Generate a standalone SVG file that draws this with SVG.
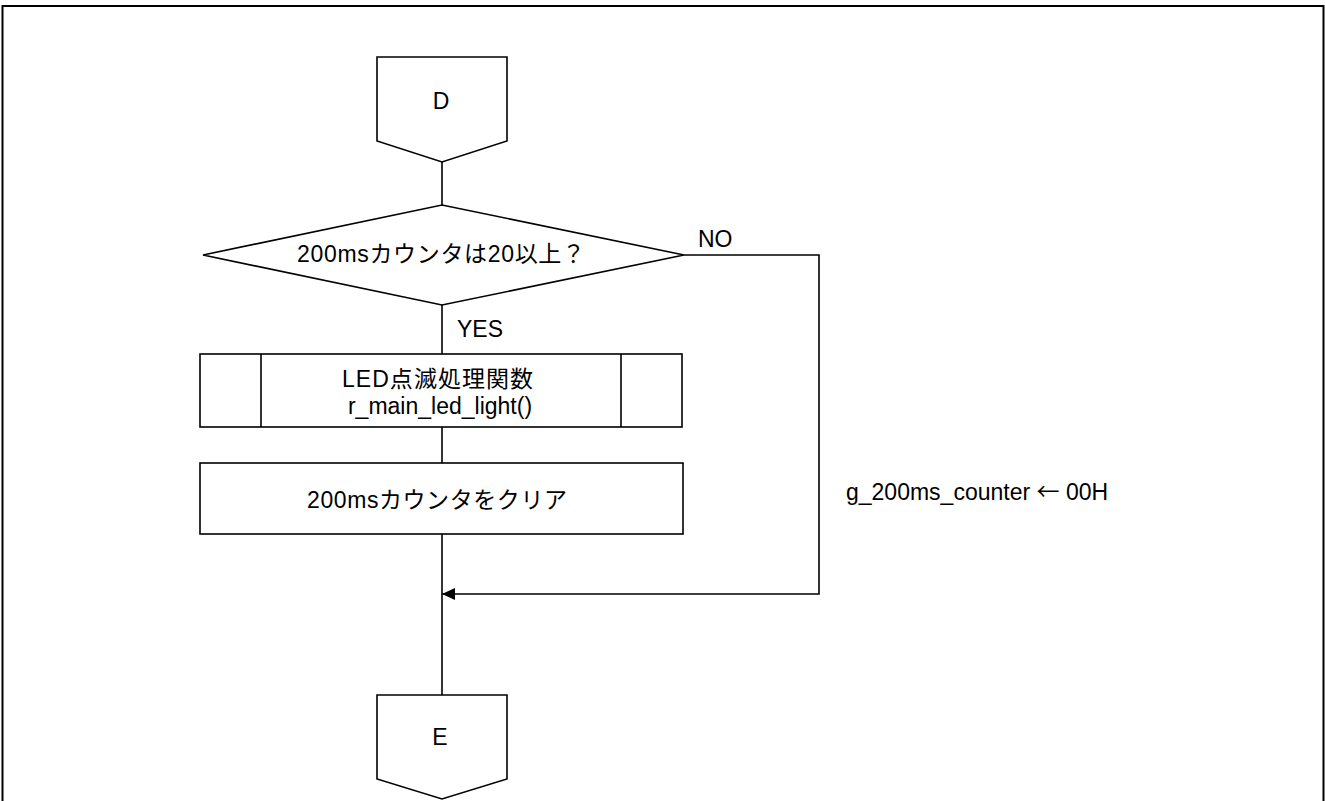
<svg xmlns="http://www.w3.org/2000/svg" width="1325" height="801" viewBox="0 0 1325 801">
<style>
.s{fill:#fff;stroke:#000;stroke-width:1.6}
.c{fill:none;stroke:#000;stroke-width:1.6}
text{font-family:"Liberation Sans","Noto Sans CJK JP",sans-serif;font-size:23px;fill:#000}
.m{text-anchor:middle}
.j{font-family:"Noto Sans CJK JP",sans-serif}
</style>
<defs>
<marker id="ah" viewBox="0 0 13 12" refX="13" refY="6" markerWidth="13" markerHeight="12" markerUnits="userSpaceOnUse" orient="auto">
<path d="M0,0 L13,6 L0,12 z" fill="#000"/>
</marker>
</defs>
<rect width="1325" height="801" fill="#fff"/>
<path d="M2.5,801 V6 H1323.5 V801" fill="none" stroke="#000" stroke-width="2"/>
<g id="connectors">
<path class="c" d="M442,162 V205"/>
<path class="c" d="M442,305 V354"/>
<path class="c" d="M442,427 V463"/>
<path class="c" d="M442,534 V695"/>
<path class="c" d="M684,255 H819 V594 H442" marker-end="url(#ah)"/>
<text x="698" y="246.5">NO</text>
<text x="457" y="336.5">YES</text>
<text x="846" y="500">g_200ms_counter <tspan class="j">←</tspan> 00H</text>
</g>
<g id="D">
<path class="s" d="M377,57 H507 V141 L442,162 L377,141 Z"/>
<text class="m" x="441" y="108.5">D</text>
</g>
<g id="decision">
<path class="s" d="M203,255 L442,205 L684,255 L442,305 Z"/>
<text x="297" y="262" textLength="288">200msカウンタは20以上？</text>
</g>
<g id="led">
<rect class="s" x="200" y="354" width="482" height="73"/>
<path class="c" d="M261,354 V427 M621,354 V427"/>
<text x="342" y="387" textLength="191">LED点滅処理関数</text>
<text class="m" x="440" y="413.5">r_main_led_light()</text>
</g>
<g id="clear">
<rect class="s" x="200" y="463" width="483" height="71"/>
<text x="307" y="508" textLength="260">200msカウンタをクリア</text>
</g>
<g id="E">
<path class="s" d="M377,695 H507 V779 L442,799 L377,779 Z"/>
<text class="m" x="440" y="745">E</text>
</g>
</svg>
